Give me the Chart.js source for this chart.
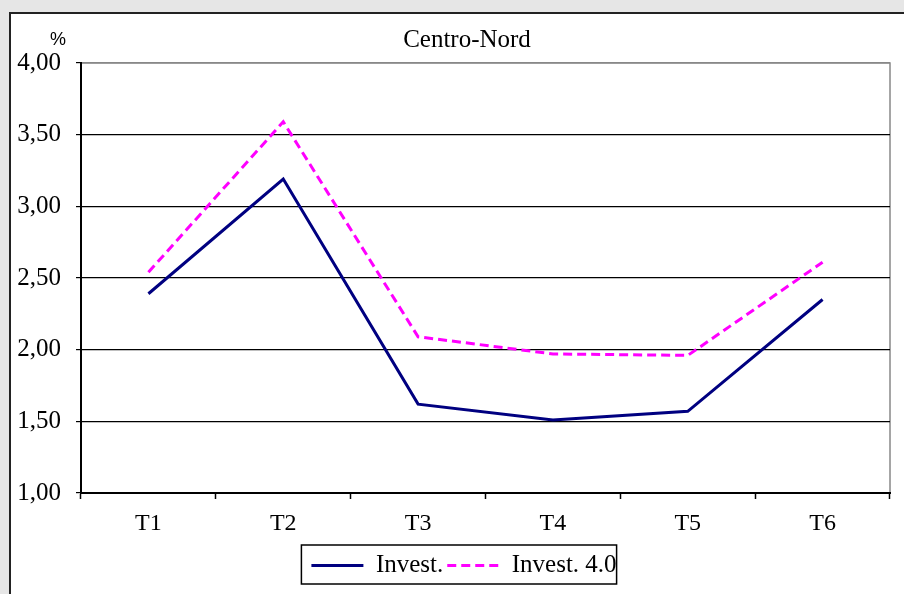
<!DOCTYPE html>
<html>
<head>
<meta charset="utf-8">
<script src="https://cdn.jsdelivr.net/npm/chart.js@4/dist/chart.umd.min.js"></script>
<style>
  html, body { margin: 0; padding: 0; background: #e6e6e6; }
  #wrap { position: absolute; left: 0; top: 0; width: 904px; height: 594px; }
</style>
</head>
<body>
<div id="wrap"><canvas id="c" width="904" height="594"></canvas></div>
<script>
const categories = ['T1', 'T2', 'T3', 'T4', 'T5', 'T6'];
const investValues = [2.39, 3.19, 1.62, 1.51, 1.57, 2.35];
const invest40Values = [2.54, 3.59, 2.09, 1.97, 1.96, 2.61];
const seriesNames = ['Invest.', 'Invest. 4.0'];
const yTickValues = [1.0, 1.5, 2.0, 2.5, 3.0, 3.5, 4.0];
const chartTitle = 'Centro-Nord';
const unitLabel = '%';

const SERIF = '"Liberation Serif", "Times New Roman", serif';
const SANS = '"Liberation Sans", Arial, sans-serif';

const framePlugin = {
  id: 'frame',
  afterLayout(chart) {
    const lg = chart.legend;
    if (lg) { lg.left += 7; lg.right += 7; }
  },
  beforeDraw(chart) {
    const ctx = chart.ctx;
    ctx.save();
    ctx.fillStyle = '#e6e6e6';
    ctx.fillRect(0, 0, chart.width, chart.height);
    ctx.fillStyle = '#ffffff';
    ctx.fillRect(10, 13, chart.width - 10, chart.height - 13);
    ctx.strokeStyle = '#222';
    ctx.lineWidth = 2;
    ctx.beginPath();
    ctx.moveTo(10, chart.height);
    ctx.lineTo(10, 13);
    ctx.lineTo(chart.width, 13);
    ctx.stroke();
    const a = chart.chartArea;
    ctx.strokeStyle = '#888';
    ctx.lineWidth = 1.5;
    ctx.strokeRect(a.left, a.top, a.right - a.left, a.bottom - a.top);
    ctx.restore();
  },
  afterDraw(chart) {
    const ctx = chart.ctx;
    ctx.save();
    ctx.fillStyle = '#000';
    ctx.textBaseline = 'middle';
    ctx.textAlign = 'center';
    ctx.font = '25px ' + SERIF;
    ctx.fillText(chartTitle, 467, 40);
    ctx.font = '18px ' + SANS;
    ctx.fillText(unitLabel, 58, 40);
    // legend frame
    const hb = chart.legend.legendHitBoxes;
    if (hb && hb.length) {
      const l = hb[0].left - 10;
      const last = hb[hb.length - 1];
      const r = last.left + last.width;
      const t = hb[0].top - 8;
      const b = hb[0].top + hb[0].height + 6;
      ctx.strokeStyle = '#000';
      ctx.lineWidth = 1.5;
      ctx.strokeRect(l, t, r - l, b - t);
    }
    ctx.restore();
  }
};

new Chart(document.getElementById('c'), {
  type: 'line',
  data: {
    labels: categories,
    datasets: [
      {
        label: seriesNames[0],
        data: investValues,
        borderColor: '#000080',
        backgroundColor: '#000080',
        borderWidth: 3,
        pointRadius: 0,
        tension: 0,
        fill: false
      },
      {
        label: seriesNames[1],
        data: invest40Values,
        borderColor: '#ff00ff',
        backgroundColor: '#ff00ff',
        borderWidth: 3,
        borderDash: [9, 5],
        pointRadius: 0,
        tension: 0,
        fill: false
      }
    ]
  },
  options: {
    responsive: false,
    animation: false,
    devicePixelRatio: 1,
    layout: { padding: { left: 10, top: 63, right: 0, bottom: 6 } },
    plugins: {
      title: { display: false },
      tooltip: { enabled: false },
      legend: {
        display: true,
        position: 'bottom',
        labels: {
          usePointStyle: true,
          pointStyle: 'line',
          pointStyleWidth: 52,
          boxWidth: 52,
          boxHeight: 20,
          padding: 4,
          color: '#000',
          font: { family: SERIF, size: 25 },
          generateLabels(chart) {
            const items = Chart.defaults.plugins.legend.labels.generateLabels(chart);
            items.forEach((it) => {
              const ds = chart.data.datasets[it.datasetIndex];
              it.lineDash = ds.borderDash || [];
              it.lineWidth = 3;
              it.strokeStyle = ds.borderColor;
              it.pointStyle = 'line';
            });
            return items;
          }
        }
      }
    },
    scales: {
      x: {
        type: 'category',
        offset: true,
        grid: {
          offset: true,
          drawOnChartArea: false,
          drawTicks: true,
          tickLength: 6,
          tickWidth: 1.5,
          tickColor: '#000'
        },
        border: { display: true, color: '#000', width: 2 },
        ticks: {
          color: '#000',
          padding: 10,
          maxRotation: 0,
          font: { family: SERIF, size: 24 }
        },
        afterFit(s) { s.height = 56; }
      },
      y: {
        type: 'linear',
        min: 1,
        max: 4,
        afterBuildTicks(s) { s.ticks = yTickValues.map(v => ({ value: v })); },
        grid: {
          color: (c) => (c.tick && c.tick.value === 4 ? '#888' : '#000'),
          lineWidth: 1.2,
          drawTicks: true,
          tickLength: 5,
          tickColor: '#000'
        },
        border: { display: true, color: '#000', width: 2 },
        ticks: {
          color: '#000',
          padding: 15,
          font: { family: SERIF, size: 25 },
          callback: (v) => Number(v).toFixed(2).replace('.', ',')
        },
        afterFit(s) { s.width = 71; }
      },
      yR: {
        type: 'linear',
        position: 'right',
        min: 1,
        max: 4,
        display: true,
        grid: { display: false, drawTicks: false },
        border: { display: false },
        ticks: { display: false },
        afterFit(s) { s.width = 14; }
      }
    }
  },
  plugins: [framePlugin]
});
</script>
</body>
</html>
